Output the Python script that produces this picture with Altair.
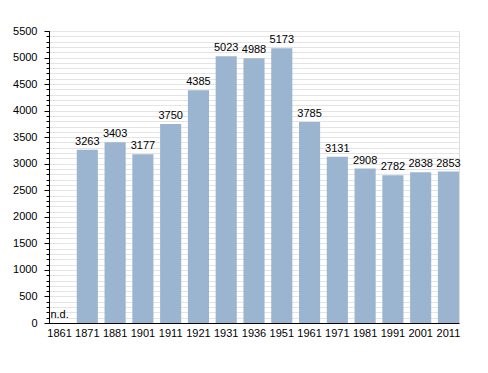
import altair as alt
import pandas as pd

years = ["1861", "1871", "1881", "1901", "1911", "1921", "1931", "1936",
         "1951", "1961", "1971", "1981", "1991", "2001", "2011"]
population = [None, 3263, 3403, 3177, 3750, 4385, 5023, 4988,
              5173, 3785, 3131, 2908, 2782, 2838, 2853]
major_ticks = list(range(0, 5501, 500))
minor_ticks = list(range(0, 5501, 100))

labels = ["n.d." if v is None else str(v) for v in population]
ypos = [0 if v is None else v for v in population]
df = pd.DataFrame({"year": years, "pop": population, "label": labels, "ypos": ypos})

FONT = "Liberation Sans"
xscale = alt.Scale(domain=years, paddingInner=0.24, paddingOuter=0)
yscale = alt.Scale(domain=[0, 5500], nice=False)

xenc = alt.X("year:N", scale=xscale, sort=years,
             axis=alt.Axis(title=None, labelAngle=0, ticks=False, domainColor="black",
                           labelColor="black", labelFont=FONT, labelFontSize=11,
                           labelPadding=4, grid=False))

bars = alt.Chart(df).mark_bar(color="#9bb4d0").encode(
    x=xenc,
    y=alt.Y("pop:Q", scale=yscale,
            axis=alt.Axis(title=None, orient="left", values=minor_ticks, labels=False,
                          tickSize=3, tickColor="black", domain=False,
                          gridColor="#e4e4e4", gridWidth=1)),
)

text = alt.Chart(df).mark_text(baseline="bottom", dy=-3, font=FONT, fontSize=11,
                               color="black").encode(
    x=alt.X("year:N", scale=xscale, sort=years),
    y=alt.Y("ypos:Q", scale=yscale,
            axis=alt.Axis(title=None, orient="left", values=major_ticks, format="d",
                          tickSize=5, tickColor="black", domainColor="black",
                          labelColor="black", labelFont=FONT, labelFontSize=11,
                          labelPadding=7, gridColor="#a3a3a3", gridWidth=1)),
    text="label:N",
)

chart = alt.layer(bars, text).resolve_axis(y="independent").properties(
    width=410, height=292,
    autosize=alt.AutoSizeParams(type="none"),
    padding={"left": 41, "top": 23, "right": 10, "bottom": 30},
).configure_view(stroke=None).configure(background="white")

chart.save("out.html", embed_options={"renderer": "svg", "actions": False})
